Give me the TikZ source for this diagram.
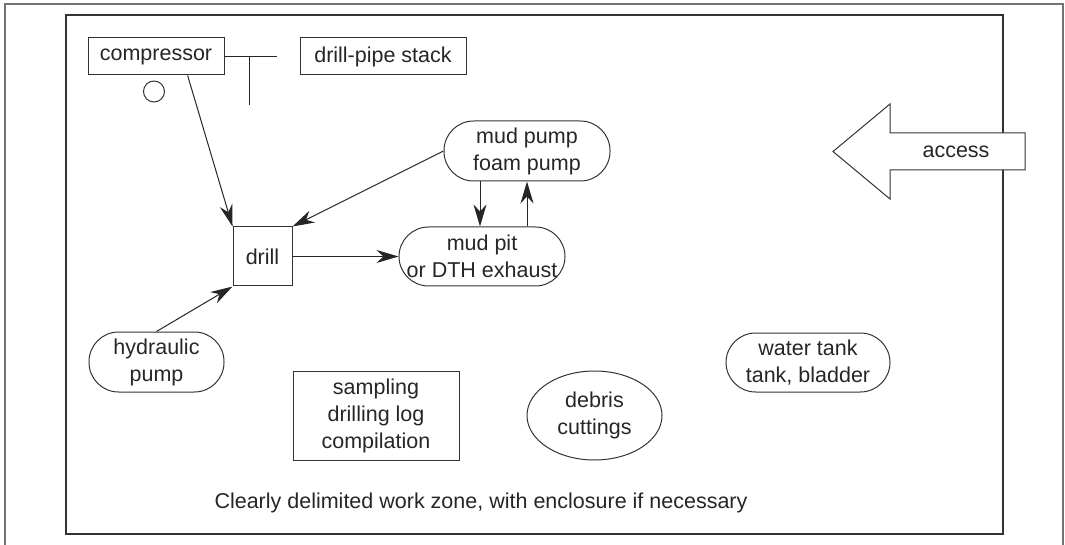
\documentclass[tikz,border=0pt]{standalone}
\usepackage{fontspec}
\setmainfont{Liberation Sans}
\usetikzlibrary{arrows.meta,shapes.geometric}

\begin{document}
\begin{tikzpicture}[x=0.5pt,y=-0.5pt,
  every node/.style={font=\fontsize{10.75}{13.5}\selectfont, text=black!85,
    inner sep=0pt, align=center},
  box/.style={draw=black!80, line width=0.5pt, rectangle},
  pill/.style={draw=black!80, line width=0.5pt, rectangle, rounded corners=14.8pt},
  oval/.style={draw=black!80, line width=0.5pt, ellipse},
  flow/.style={-{Stealth[length=11pt,width=6.5pt,inset=3.5pt]}, line width=0.5pt,
    draw=black!85}]
  \useasboundingbox (0,0) rectangle (1065,545);

  % frames
  \draw[black!55, line width=1pt] (5,545) -- (5,4) -- (1063,4) -- (1063,545);
  \draw[black!80, line width=0.8pt] (66,15) rectangle (1003,534);

  % site units
  \node[box, minimum width=68pt, minimum height=18.5pt] (compressor) at (156,56.5) {compressor};
  \node[box, minimum width=83pt, minimum height=18.5pt] (pipestack) at (383,56.5) {drill-pipe stack};
  \node[draw=black!80, line width=0.5pt, circle, minimum size=10.5pt] (gauge) at (154,91.5) {};
  \node[box, minimum width=29.5pt, minimum height=29.5pt] (drill) at (262.5,256.5) {drill};
  \node[pill, minimum width=83pt, minimum height=30pt] (mudpump) at (527,151) {mud pump\\foam pump};
  \node[pill, minimum width=83pt, minimum height=29.5pt] (mudpit) at (482,256.5) {mud pit\\or DTH exhaust};
  \node[pill, minimum width=67.5pt, minimum height=30pt] (hydpump) at (156.5,362) {hydraulic\\pump};
  \node[box, minimum width=83pt, minimum height=44.5pt] (sampling) at (376,415.5) {sampling\\drilling log\\compilation};
  \node[oval, minimum width=67.5pt, minimum height=44.5pt] (debris) at (594.5,415.5) {debris\\cuttings};
  \node[pill, minimum width=82pt, minimum height=29.5pt] (watertank) at (808,362.5) {water tank\\tank, bladder};
  \node (zone) at (481,503) {Clearly delimited work zone, with enclosure if necessary};

  % pipe tee
  \coordinate (teeend) at (277,56.5);
  \coordinate (tee) at (249,56.5);
  \coordinate (teefoot) at (249,105);
  \draw[black!85, line width=0.5pt] (compressor.east) -- (teeend)
    (tee) -- (teefoot);

  % access
  \filldraw[fill=white, draw=black!80, line width=0.5pt] (1025,133) -- (890,133) -- (890,104)
    -- (833,151.5) -- (890,199) -- (890,170) -- (1025,170) -- cycle;
  \node (access) at (956,151.5) {access};

  % flows
  \draw[flow] (compressor.-31) -- (drill.north west);
  \draw[flow] (mudpump.west) -- (drill.north east);
  \draw[flow] (hydpump.north) -- (drill.south west);
  \draw[flow] (drill.east) -- (mudpit.west);
  \draw[flow] ([xshift=-23.5pt]mudpump.south) -- ([xshift=-23.5pt]mudpump.south |- mudpit.north);
  \draw[flow] (mudpit.north -| mudpump.south) -- (mudpump.south);
\end{tikzpicture}
\end{document}
